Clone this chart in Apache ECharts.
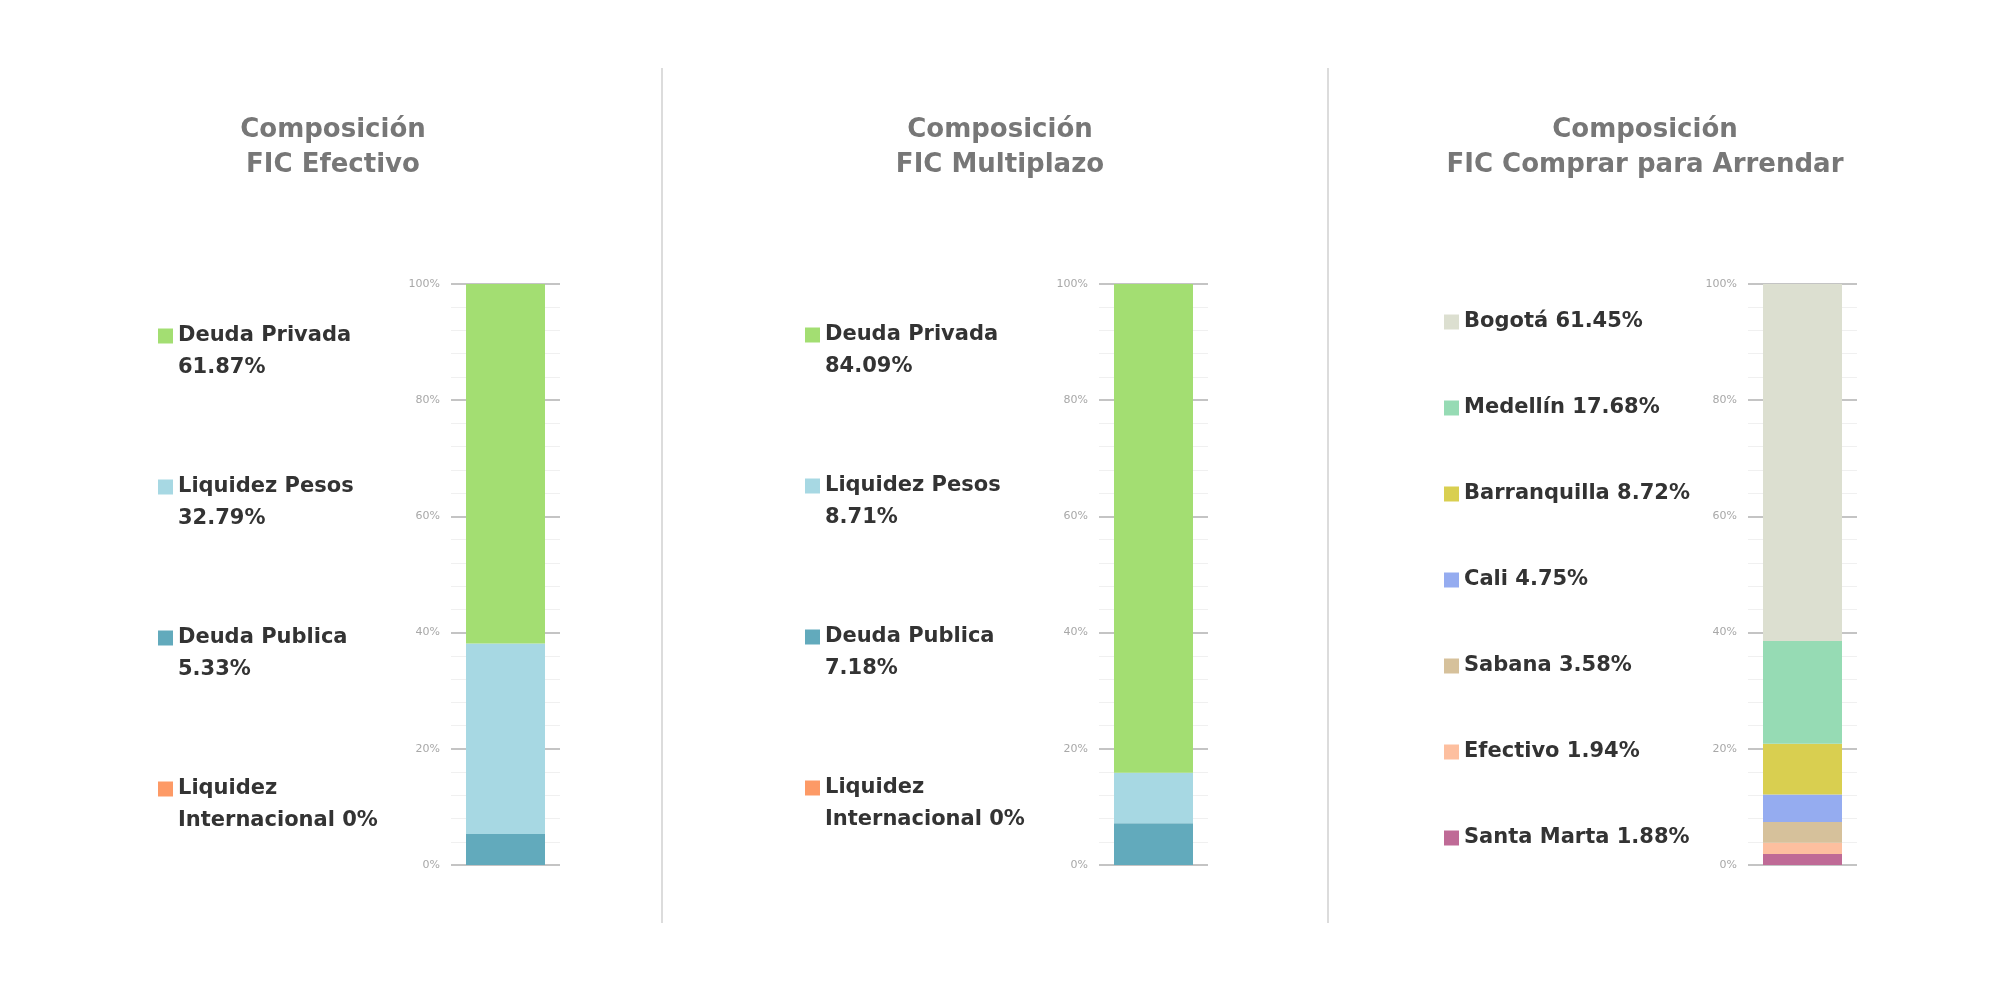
<!DOCTYPE html>
<html>
<head>
<meta charset="utf-8">
<script src="https://cdn.jsdelivr.net/npm/echarts@6/dist/echarts.min.js"></script>
<style>
  html, body { margin: 0; padding: 0; background: #fff; }
  #main { width: 2000px; height: 1000px; }
</style>
</head>
<body>
<div id="main"></div>
<script>
// legend order, top of the bar first
var efectivoNames = ['Deuda Privada', 'Liquidez Pesos', 'Deuda Publica', 'Liquidez\nInternacional'];
var efectivoValues = [61.87, 32.79, 5.33, 0];

var multiplazoNames = ['Deuda Privada', 'Liquidez Pesos', 'Deuda Publica', 'Liquidez\nInternacional'];
var multiplazoValues = [84.09, 8.71, 7.18, 0];

var arrendarNames = ['Bogotá', 'Medellín', 'Barranquilla', 'Cali', 'Sabana', 'Efectivo', 'Santa Marta'];
var arrendarValues = [61.45, 17.68, 8.72, 4.75, 3.58, 1.94, 1.88];

var fondoColors = ['#a3de72', '#a7d8e3', '#62aabc', '#fd9a66'];
var ciudadColors = ['#dcdfd0', '#96dbb4', '#d9cf50', '#95acf0', '#d6c19b', '#fdbf9f', '#bf6a96'];

var titles = ['Composición\nFIC Efectivo', 'Composición\nFIC Multiplazo', 'Composición\nFIC Comprar para Arrendar'];
var yTicks = [0, 20, 40, 60, 80, 100];

var FONT = 'DejaVu Sans';

var myChart = echarts.init(document.getElementById('main'));

var panels = [
  { names: efectivoNames, values: efectivoValues, colors: fondoColors, gridLeft: 451, titleX: 328, legendLeft: 158, legendTop: 288, twoLines: true },
  { names: multiplazoNames, values: multiplazoValues, colors: fondoColors, gridLeft: 1099, titleX: 995, legendLeft: 805, legendTop: 287, twoLines: true },
  { names: arrendarNames, values: arrendarValues, colors: ciudadColors, gridLeft: 1748, titleX: 1640, legendLeft: 1444, legendTop: 306, twoLines: false }
];

var grids = [], xAxes = [], yAxes = [], series = [], legends = [], titleList = [];

panels.forEach(function (p, i) {
  grids.push({ left: p.gridLeft, width: 109, top: 284, height: 581 });
  xAxes.push({
    type: 'category', gridIndex: i, data: [''],
    axisLine: { show: false }, axisTick: { show: false }, axisLabel: { show: false }
  });
  yAxes.push({
    type: 'value', gridIndex: i, min: yTicks[0], max: yTicks[yTicks.length - 1], interval: 20,
    axisLine: { show: false }, axisTick: { show: false },
    axisLabel: { formatter: '{value}%', color: '#a8a8a8', fontSize: 11, fontFamily: FONT, margin: 11 },
    splitLine: { lineStyle: { color: '#c4c4c4', width: 2 } },
    minorTick: { show: false, splitNumber: 5 },
    minorSplitLine: { show: true, lineStyle: { color: '#f0f0f0', width: 1 } }
  });
  // stack from the bottom up
  for (var k = p.names.length - 1; k >= 0; k--) {
    series.push({
      name: p.names[k], type: 'bar', stack: 'panel' + i,
      xAxisIndex: i, yAxisIndex: i, barWidth: 79,
      itemStyle: { color: p.colors[k] },
      data: [p.values[k]]
    });
  }
  legends.push({
    orient: 'vertical', left: p.legendLeft, top: p.legendTop, padding: 0,
    itemWidth: 15, itemHeight: 15, icon: 'rect',
    itemGap: p.twoLines ? 55 : 54,
    selectedMode: false,
    data: p.names.map(function (n, k) { return { name: n, itemStyle: { color: p.colors[k] } }; }),
    formatter: function (name) {
      var v = p.values[p.names.indexOf(name)];
      if (!p.twoLines) return name + ' ' + v + '%';
      // empty first line keeps the square level with the name line
      return '\n' + name + (name.indexOf('\n') >= 0 ? ' ' : '\n') + v + '%';
    },
    textStyle: {
      color: '#333', fontSize: 21, fontWeight: 'bold', fontFamily: FONT, lineHeight: 32
    }
  });
  titleList.push({
    text: titles[i], left: p.titleX, top: 108, textAlign: 'center',
    textStyle: { color: '#777', fontSize: 26, fontWeight: 'bold', fontFamily: FONT, lineHeight: 35 }
  });
});

var option = {
  animation: false,
  title: titleList,
  grid: grids,
  xAxis: xAxes,
  yAxis: yAxes,
  legend: legends,
  series: series,
  graphic: [
    { type: 'line', shape: { x1: 662, y1: 68, x2: 662, y2: 923 }, style: { stroke: '#dcdcdc', lineWidth: 2 } },
    { type: 'line', shape: { x1: 1328, y1: 68, x2: 1328, y2: 923 }, style: { stroke: '#dcdcdc', lineWidth: 2 } }
  ]
};
myChart.setOption(option);
</script>
</body>
</html>
